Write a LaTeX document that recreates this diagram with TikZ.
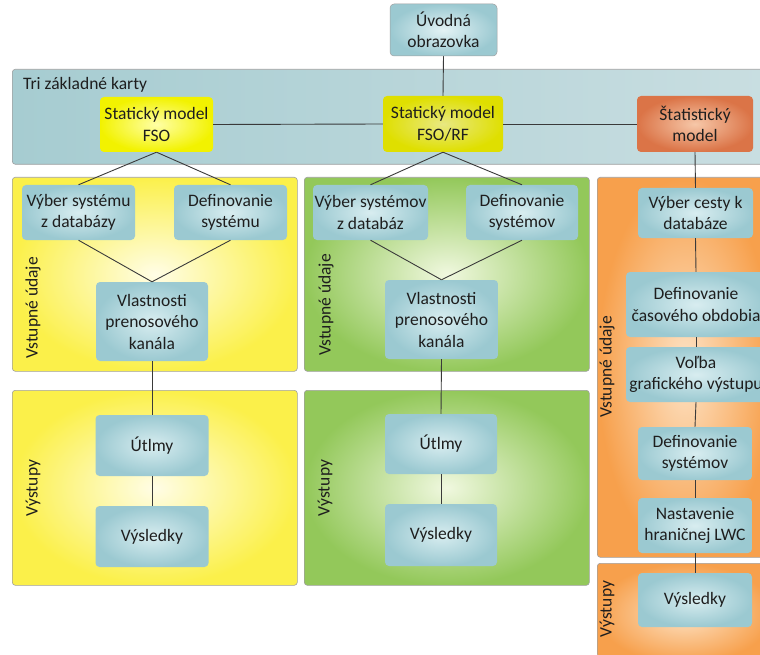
\documentclass[tikz,border=0pt]{standalone}
\usepackage{fontspec}
\setmainfont{Carlito}
\definecolor{bandL}{HTML}{A6CCD1}
\definecolor{bandR}{HTML}{C9DEE1}
\definecolor{boxO}{HTML}{9BC9D1}
\definecolor{boxI}{HTML}{D8EDF0}
\definecolor{yelO}{HTML}{FBF04A}
\definecolor{yelI}{HTML}{FFFDE6}
\definecolor{grnO}{HTML}{93C85A}
\definecolor{grnI}{HTML}{F0F8DF}
\definecolor{orgO}{HTML}{F7A04C}
\definecolor{orgI}{HTML}{FDE3C6}
\definecolor{statO}{HTML}{DB7447}
\definecolor{statI}{HTML}{F6C7A8}
\definecolor{ink}{HTML}{1E1E1E}
\definecolor{wire}{HTML}{3A3A3A}
\definecolor{rimc}{HTML}{A0A0A0}
\tikzset{
  txt/.style={font=\fontsize{17.5}{21.5}\selectfont, text=ink, align=center},
  bluebox/.style={txt, rounded corners=4pt, inner color=boxI, outer color=boxO, inner sep=0pt},
  panel/.style={rounded corners=3pt, draw=rimc, line width=0.6pt},
  yelpanel/.style={panel, inner color=yelI, outer color=yelO},
  grnpanel/.style={panel, inner color=grnI, outer color=grnO},
  orgpanel/.style={panel, inner color=orgI, outer color=orgO},
  sidelabel/.style={txt, rotate=90},
  wire/.style={draw=wire, line width=0.9pt},
}
\begin{document}
\begin{tikzpicture}[x=1pt,y=-1pt]
\useasboundingbox (0,0) rectangle (760,655);
\clip (0,0) rectangle (760,655);
\fill[white] (0,0) rectangle (760,655);

% band
\node[panel, left color=bandL, right color=bandR, minimum width=760pt, minimum height=95pt, anchor=north west, inner sep=0pt] (band) at (12,69) {};
\node[txt, anchor=north west, inner sep=0pt] (bandlbl) at (23,77) {Tri základné karty};

% panels
\node[yelpanel, minimum width=285pt, minimum height=194pt, anchor=north west, inner sep=0pt] (yin) at (12,177) {};
\node[yelpanel, minimum width=285pt, minimum height=195pt, anchor=north west, inner sep=0pt] (yout) at (12,390) {};
\node[grnpanel, minimum width=285pt, minimum height=194pt, anchor=north west, inner sep=0pt] (gin) at (304,177) {};
\node[grnpanel, minimum width=285pt, minimum height=195pt, anchor=north west, inner sep=0pt] (gout) at (304,390) {};
\node[orgpanel, minimum width=175pt, minimum height=380pt, anchor=north west, inner sep=0pt] (oin) at (597,177) {};
\node[orgpanel, minimum width=175pt, minimum height=100pt, anchor=north west, inner sep=0pt] (oout) at (597,563) {};

% side labels
\node[sidelabel] (yinl) at (33,308) {Vstupné údaje};
\node[sidelabel] (youtl) at (33,488) {Výstupy};
\node[sidelabel] (ginl) at (326,305) {Vstupné údaje};
\node[sidelabel] (goutl) at (325,488) {Výstupy};
\node[sidelabel] (oinl) at (607,367) {Vstupné údaje};
\node[sidelabel] (ooutl) at (607,609) {Výstupy};

% top nodes
\node[txt, rounded corners=4pt, draw=rimc, line width=0.5pt, inner color=boxI!70!white, outer color=boxO, minimum width=107pt, minimum height=52pt, inner sep=0pt] (intro) at (443.5,30) {Úvodná\\obrazovka};
\node[txt, rounded corners=4pt, inner color=yellow!35!white, outer color=yellow!95!black, minimum width=113pt, minimum height=55pt, inner sep=0pt] (fso) at (156.5,124.5) {Statický model\\FSO};
\node[txt, rounded corners=4pt, inner color=yellow!55!olive!40!white, outer color=yellow!75!olive, minimum width=120pt, minimum height=56pt, inner sep=0pt] (fsorf) at (443,124) {Statický model\\FSO/RF};
\node[txt, rounded corners=4pt, inner color=statI, outer color=statO, minimum width=116pt, minimum height=56pt, inner sep=0pt] (stat) at (695,124) {Štatistický\\model};

% yellow column
\node[bluebox, minimum width=113pt, minimum height=55pt] (y1) at (78.5,212.5) {Výber systému\\z databázy};
\node[bluebox, minimum width=113pt, minimum height=55pt] (y2) at (230.5,212.5) {Definovanie\\systému};
\node[bluebox, minimum width=112pt, minimum height=79pt] (y3) at (152,321.5) {Vlastnosti\\prenosového\\kanála};
\node[bluebox, minimum width=113pt, minimum height=61pt] (y4) at (152,445.5) {Útlmy};
\node[bluebox, minimum width=113pt, minimum height=61pt] (y5) at (152,536.5) {Výsledky};

% green column
\node[bluebox, minimum width=115pt, minimum height=55pt] (g1) at (370.5,212.5) {Výber systémov\\z databáz};
\node[bluebox, minimum width=112pt, minimum height=55pt] (g2) at (522,212.5) {Definovanie\\systémov};
\node[bluebox, minimum width=113pt, minimum height=79pt] (g3) at (441.5,319.5) {Vlastnosti\\prenosového\\kanála};
\node[bluebox, minimum width=112pt, minimum height=60pt] (g4) at (441,444) {Útlmy};
\node[bluebox, minimum width=112pt, minimum height=62pt] (g5) at (441,535) {Výsledky};

% orange column
\node[bluebox, minimum width=115pt, minimum height=50pt] (o1) at (695.5,213) {Výber cesty k\\databáze};
\node[bluebox, minimum width=140pt, minimum height=65pt] (o2) at (696,304.5) {Definovanie\\časového obdobia};
\node[bluebox, minimum width=140pt, minimum height=55pt] (o3) at (696,374.5) {Voľba\\grafického výstupu};
\node[bluebox, minimum width=114pt, minimum height=53pt] (o4) at (695,453.5) {Definovanie\\systémov};
\node[bluebox, minimum width=114pt, minimum height=55pt] (o5) at (695,525.5) {Nastavenie\\hraničnej LWC};
\node[bluebox, minimum width=114pt, minimum height=54pt] (o6) at (695,600) {Výsledky};

% connectors
\draw[wire] (intro.south) -- (fsorf.north);
\draw[wire] (fso.east) -- (fsorf.west);
\draw[wire] (fsorf.east) -- (stat.west);
\draw[wire] (fso.south) -- (y1.north);
\draw[wire] (fso.south) -- (y2.north);
\draw[wire] (y1.south) -- (y3.north);
\draw[wire] (y2.south) -- (y3.north);
\draw[wire] (y3.south) -- (y4.north);
\draw[wire] (y4.south) -- (y5.north);
\draw[wire] (fsorf.south) -- (g1.north);
\draw[wire] (fsorf.south) -- (g2.north);
\draw[wire] (g1.south) -- (g3.north);
\draw[wire] (g2.south) -- (g3.north);
\draw[wire] (g3.south) -- (g4.north);
\draw[wire] (g4.south) -- (g5.north);
\draw[wire] (stat.south) -- (o1.north);
\draw[wire] (o1.south) -- (o2.north);
\draw[wire] (o2.south) -- (o3.north);
\draw[wire] (o3.south) -- (o4.north);
\draw[wire] (o4.south) -- (o5.north);
\draw[wire] (o5.south) -- (o6.north);
\end{tikzpicture}
\end{document}
